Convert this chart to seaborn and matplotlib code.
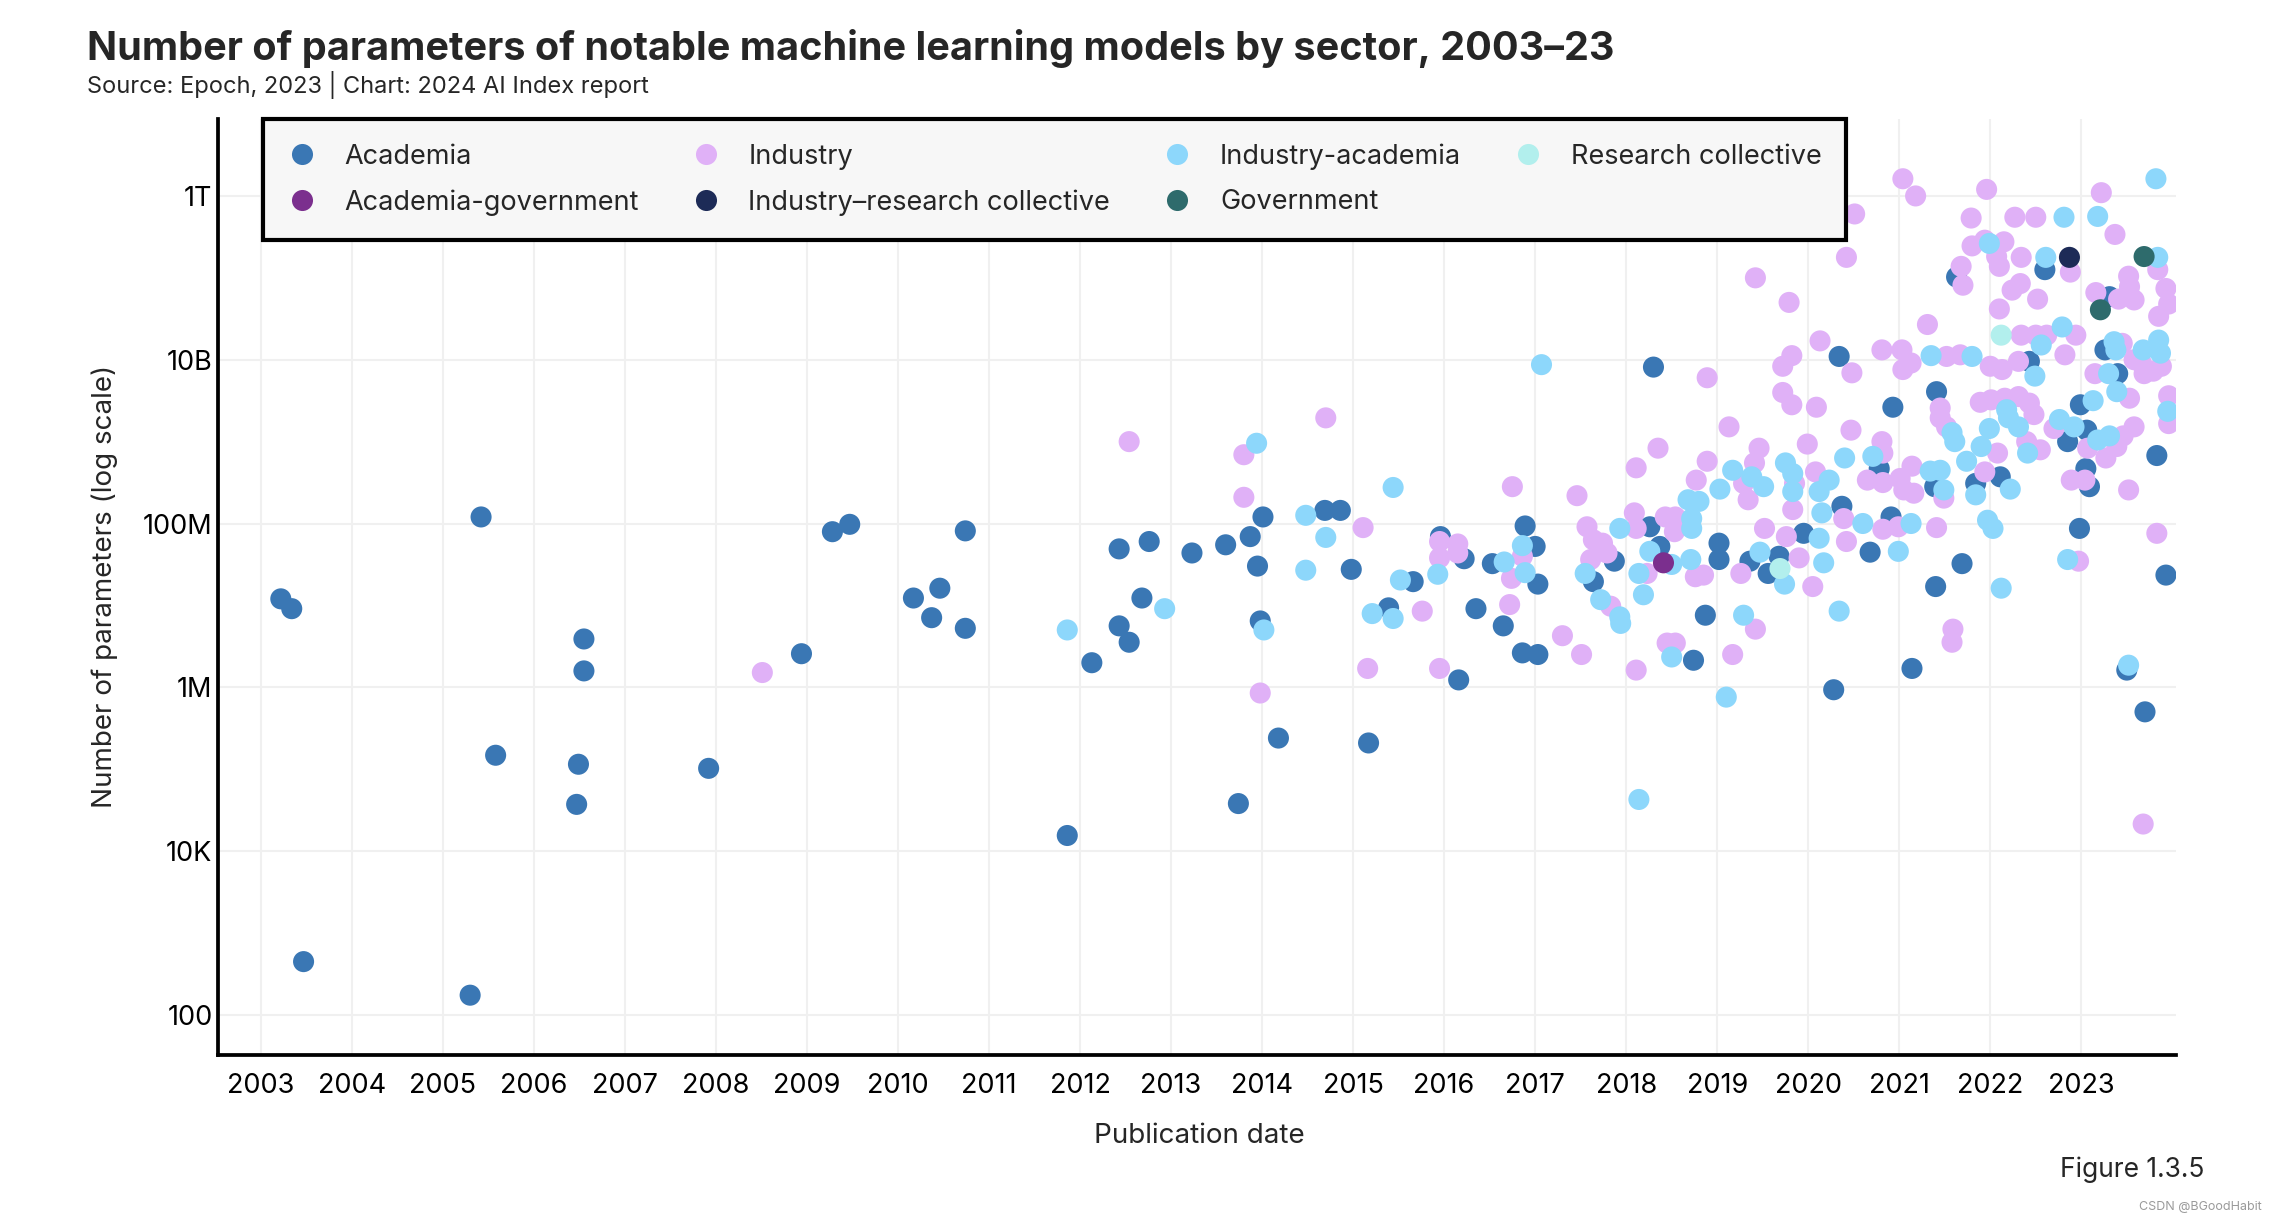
import numpy as np
import pandas as pd
import matplotlib
matplotlib.use('Agg')
import matplotlib.pyplot as plt
import seaborn as sns
from matplotlib.ticker import FixedLocator, NullLocator

# publication date (decimal year) and log10(number of parameters)

academia_year = [2003.22, 2003.34, 2003.47, 2005.42, 2005.30, 2005.58, 2006.55, 2006.55, 2006.49, 2006.47,
                 2007.92, 2008.94, 2009.28, 2009.47,
                 2010.74, 2010.17, 2010.46, 2010.37, 2010.74, 2011.86, 2012.13, 2012.43, 2012.76, 2012.43,
                 2012.68, 2012.54, 2013.23, 2013.60, 2013.74, 2013.87, 2014.01, 2013.95, 2013.98, 2014.18,
                 2014.69, 2014.86, 2014.98, 2015.17, 2015.39, 2015.66, 2016.16, 2015.96, 2016.22, 2016.35,
                 2016.65, 2016.53, 2016.89, 2017.00, 2017.03, 2016.86, 2017.03,
                 2022.60, 2021.63, 2023.31, 2020.34, 2022.43, 2023.26, 2023.40, 2023.83, 2018.30, 2020.93,
                 2021.41, 2022.11, 2021.84, 2022.85, 2022.99, 2023.06, 2023.05, 2023.09, 2022.98, 2023.93,
                 2021.69, 2021.40, 2020.91, 2020.68, 2020.78, 2020.37, 2019.95, 2019.68, 2019.56, 2019.36,
                 2019.02, 2019.02, 2018.87, 2018.26, 2018.37, 2017.87, 2017.64, 2021.39,
                 2018.74, 2020.28, 2021.14, 2023.50, 2023.70]
academia_log = [7.08, 6.96, 2.65, 8.08, 2.24, 5.17, 6.59, 6.20, 5.06, 4.57,
                5.01, 6.41, 7.90, 7.99,
                7.91, 7.09, 7.21, 6.85, 6.72, 4.19, 6.30, 7.69, 7.78, 6.75,
                7.09, 6.55, 7.64, 7.74, 4.58, 7.84, 8.08, 7.48, 6.81, 5.38,
                8.16, 8.16, 7.44, 5.32, 6.97, 7.29, 6.09, 7.84, 7.57, 6.96,
                6.75, 7.51, 7.97, 7.72, 7.26, 6.42, 6.40,
                11.10, 11.01, 10.77, 10.04, 9.98, 10.12, 9.83, 8.83, 9.91, 9.42,
                9.61, 8.57, 8.49, 9.00, 9.45, 9.14, 8.67, 8.45, 7.94, 7.37,
                7.51, 7.23, 8.08, 7.65, 8.67, 8.21, 7.88, 7.60, 7.39, 7.54,
                7.76, 7.56, 6.88, 7.96, 7.72, 7.54, 7.29, 8.45,
                6.33, 5.97, 6.23, 6.21, 5.70]

industry_year = [2008.51, 2012.54, 2013.80, 2013.80, 2013.98, 2014.70, 2015.11, 2015.16, 2015.76, 2015.95,
                 2015.95, 2015.95, 2016.15, 2016.15, 2016.75, 2016.86, 2016.74, 2016.72,
                 2021.04, 2021.18, 2021.96, 2023.22, 2020.51, 2021.79, 2022.27, 2022.50, 2023.37, 2021.80,
                 2022.15, 2021.94, 2022.07, 2022.10, 2022.34, 2022.88, 2023.84, 2020.42, 2021.68, 2021.70,
                 2019.42, 2022.24, 2022.33, 2022.52, 2022.10, 2023.16, 2023.41, 2023.58, 2023.52, 2023.53,
                 2023.93, 2023.96, 2023.85, 2019.79, 2021.31, 2022.34, 2022.50, 2022.62, 2022.94, 2022.82,
                 2020.13, 2019.82, 2019.72, 2020.48, 2020.81, 2021.03, 2021.13, 2021.04, 2021.52, 2021.67,
                 2022.00, 2022.13, 2022.31, 2023.15, 2023.69, 2023.88, 2023.58, 2023.45, 2023.79, 2023.96,
                 2023.96, 2023.83, 2018.89, 2019.72, 2019.82, 2020.09, 2021.45, 2021.45, 2021.52, 2021.89,
                 2022.01, 2022.16, 2022.31, 2022.43, 2022.48, 2022.08, 2021.94, 2022.40, 2022.55, 2022.70,
                 2023.07, 2023.46, 2023.58, 2023.39, 2023.27, 2022.89, 2023.04, 2023.52, 2022.97, 2021.41,
                 2020.99, 2020.82, 2020.81, 2020.82, 2020.65, 2020.47, 2019.99, 2020.08, 2020.39, 2020.42,
                 2020.05, 2019.90, 2019.76, 2019.52, 2019.83, 2019.85, 2019.46, 2019.41, 2019.29, 2019.34,
                 2018.89, 2018.77, 2019.13, 2018.35, 2018.11, 2018.85, 2018.76, 2019.26, 2018.43, 2018.54,
                 2018.09, 2018.11, 2017.79, 2017.74, 2017.64, 2017.57, 2017.83, 2017.46, 2018.23, 2018.53,
                 2017.61, 2020.82, 2021.01, 2021.16, 2021.05, 2021.14, 2021.49, 2023.53, 2023.66,
                 2017.30, 2017.51, 2018.11, 2018.45, 2018.54, 2019.42, 2019.17, 2021.59, 2021.58, 2023.68]
industry_log = [6.18, 9.00, 8.84, 8.32, 5.93, 9.29, 7.95, 6.23, 6.93, 6.23,
                7.78, 7.58, 7.75, 7.64, 8.45, 7.60, 7.33, 7.01,
                12.21, 12.00, 12.08, 12.04, 11.78, 11.73, 11.74, 11.74, 11.53, 11.39,
                11.44, 11.46, 11.26, 11.14, 11.25, 11.07, 11.10, 11.25, 11.14, 10.91,
                11.00, 10.85, 10.93, 10.74, 10.62, 10.82, 10.74, 10.73, 11.02, 10.89,
                10.87, 10.68, 10.53, 10.70, 10.43, 10.30, 10.30, 10.30, 10.30, 10.06,
                10.23, 10.05, 9.92, 9.84, 10.12, 10.12, 9.96, 9.88, 10.04, 10.06,
                9.92, 9.88, 9.98, 9.83, 9.83, 9.92, 10.00, 10.20, 9.86, 9.56,
                9.22, 7.88, 9.78, 9.60, 9.45, 9.42, 9.41, 9.29, 9.18, 9.48,
                9.51, 9.53, 9.55, 9.47, 9.33, 8.86, 8.63, 9.00, 8.90, 9.16,
                8.92, 9.07, 9.18, 8.94, 8.80, 8.53, 8.53, 8.41, 7.54, 7.95,
                7.96, 7.93, 9.00, 8.86, 8.53, 9.14, 8.97, 8.63, 8.06, 7.78,
                7.23, 7.58, 7.84, 7.94, 8.17, 8.49, 8.92, 8.74, 8.49, 8.29,
                8.76, 8.53, 9.18, 8.92, 8.68, 7.37, 7.35, 7.39, 8.08, 8.08,
                8.13, 7.94, 7.64, 7.76, 7.80, 7.96, 6.99, 8.34, 7.39, 7.90,
                7.56, 8.50, 8.55, 8.37, 8.41, 8.70, 8.31, 9.53, 9.96,
                6.63, 6.40, 6.21, 6.54, 6.54, 6.71, 6.40, 6.71, 6.55, 4.33]

ind_acad_year = [2011.86, 2012.93, 2013.94, 2014.02, 2014.48, 2014.70, 2014.48, 2015.44, 2015.21, 2015.44,
                 2015.52, 2015.93, 2016.66, 2016.86, 2016.89, 2017.07,
                 2023.82, 2022.81, 2023.18, 2021.99, 2022.61, 2023.84, 2022.79, 2022.56, 2021.35, 2021.80,
                 2022.49, 2023.38, 2023.36, 2023.30, 2023.68, 2023.85, 2023.87, 2023.95, 2021.58, 2021.61,
                 2022.18, 2022.20, 2022.31, 2021.99, 2021.90, 2021.74, 2021.84, 2022.22, 2022.41, 2022.76,
                 2022.92, 2023.13, 2023.18, 2023.31, 2022.85, 2022.12, 2020.99, 2021.13, 2020.60, 2020.71,
                 2020.40, 2020.23, 2020.12, 2020.15, 2020.12, 2020.17, 2019.74, 2019.47, 2019.83, 2019.75,
                 2019.83, 2019.38, 2019.51, 2019.17, 2019.03, 2018.68, 2018.80, 2018.72, 2018.72, 2019.29,
                 2018.71, 2018.50, 2018.26, 2018.14, 2018.19, 2017.93, 2017.55, 2017.72, 2020.34, 2017.93,
                 2021.97, 2022.03, 2021.34, 2021.45, 2021.49, 2023.39,
                 2017.94, 2018.50, 2019.10, 2023.52, 2018.14]
ind_acad_log = [6.70, 6.96, 8.98, 6.70, 8.10, 7.83, 7.43, 8.44, 6.90, 6.84,
                7.31, 7.38, 7.53, 7.73, 7.40, 9.94,
                12.21, 11.74, 11.75, 11.42, 11.25, 11.25, 10.40, 10.18, 10.05, 10.04,
                9.80, 10.12, 10.22, 9.83, 10.12, 10.24, 10.08, 9.37, 9.11, 9.00,
                9.39, 9.29, 9.18, 9.16, 8.94, 8.76, 8.35, 8.42, 8.86, 9.27,
                9.18, 9.50, 9.02, 9.07, 7.56, 7.21, 7.66, 8.00, 8.00, 8.82,
                8.80, 8.53, 8.39, 8.13, 7.82, 7.52, 7.26, 7.65, 8.39, 8.74,
                8.61, 8.57, 8.45, 8.65, 8.42, 8.29, 8.27, 8.06, 7.94, 6.88,
                7.56, 7.50, 7.66, 7.39, 7.13, 7.94, 7.39, 7.07, 6.93, 6.86,
                8.04, 7.94, 8.64, 8.65, 8.41, 9.61,
                6.78, 6.37, 5.88, 6.27, 4.63]

research_year = [2022.12, 2019.69]
research_log = [10.30, 7.45]

acad_gov_year = [2018.41]
acad_gov_log = [7.52]

ind_research_year = [2022.87]
ind_research_log = [11.25]

government_year = [2023.69, 2023.21]
government_log = [11.26, 10.61]

sectors = ['Academia', 'Industry', 'Industry-academia', 'Research collective',
           'Academia-government', 'Industry–research collective', 'Government']
colors = ['#3a77b4', '#e0b1f7', '#8dd7fb', '#b2efed', '#7b2f8e', '#1d2b57', '#2e6b6c']

years_list = [academia_year, industry_year, ind_acad_year, research_year,
              acad_gov_year, ind_research_year, government_year]
logs_list = [academia_log, industry_log, ind_acad_log, research_log,
             acad_gov_log, ind_research_log, government_log]

frames = []
for name, yrs, lg in zip(sectors, years_list, logs_list):
    frames.append(pd.DataFrame({'date': yrs, 'params': 10 ** np.array(lg), 'sector': name}))
df = pd.concat(frames, ignore_index=True)

tick_years = list(range(2003, 2024))
ytick_vals = [1e2, 1e4, 1e6, 1e8, 1e10, 1e12]
ytick_labels = ['100', '10K', '1M', '100M', '10B', '1T']

sns.set_style('white')
plt.rcParams['font.family'] = ['Inter', 'DejaVu Sans']

fig, ax = plt.subplots(figsize=(22.78, 12.24), dpi=100)
fig.subplots_adjust(left=0.0957, right=0.9552, bottom=0.1381, top=0.9028)

sns.scatterplot(data=df, x='date', y='params', hue='sector', hue_order=sectors,
                palette=dict(zip(sectors, colors)), s=230, linewidth=0, edgecolor='none',
                ax=ax, zorder=3)

ax.set_yscale('log')
ax.set_xlim(2002.53, 2024.04)
ax.set_ylim(10 ** 1.51, 10 ** 12.94)
ax.set_xticks(tick_years)
ax.set_xticklabels([str(y) for y in tick_years])
ax.yaxis.set_major_locator(FixedLocator(ytick_vals))
ax.yaxis.set_minor_locator(NullLocator())
ax.set_yticklabels(ytick_labels)
ax.grid(True, color='#f0f0f0', linewidth=1.5)
ax.set_axisbelow(True)
for side in ['top', 'right']:
    ax.spines[side].set_visible(False)
for side in ['left', 'bottom']:
    ax.spines[side].set_linewidth(2.7)
    ax.spines[side].set_color('black')
ax.tick_params(axis='both', length=0, labelsize=19.5, colors='black')
ax.tick_params(axis='x', pad=13)
ax.tick_params(axis='y', pad=4)
ax.set_xlabel('')
ax.set_ylabel('')

# legend: reorder so it fills row by row like the original
handles, labels = ax.get_legend_handles_labels()
lookup = dict(zip(labels, handles))
leg_order = ['Academia', 'Academia-government', 'Industry', 'Industry–research collective',
             'Industry-academia', 'Government', 'Research collective']
leg = ax.legend([lookup[k] for k in leg_order], leg_order, ncol=4, loc='upper left',
                bbox_to_anchor=(0.023, 1.0), borderaxespad=0, frameon=True, fancybox=False,
                fontsize=19.5, facecolor='#f7f7f7', edgecolor='black', framealpha=1,
                handlelength=1.05, handletextpad=1.05, columnspacing=1.95,
                labelspacing=0.72, borderpad=0.9, markerscale=1.0)
leg.get_frame().set_linewidth(3)
leg.set_zorder(5)

fig.text(0.0382, 0.951, 'Number of parameters of notable machine learning models by sector, 2003–23',
         fontsize=28.5, fontweight='bold', va='baseline', ha='left')
fig.text(0.0382, 0.924, 'Source: Epoch, 2023 | Chart: 2024 AI Index report',
         fontsize=17, va='baseline', ha='left')
fig.text(0.0461, 0.521, 'Number of parameters (log scale)', rotation=90,
         fontsize=20, va='center', ha='center')
fig.text(0.5263, 0.0719, 'Publication date', fontsize=20, va='center', ha='center')
fig.text(0.9675, 0.0441, 'Figure 1.3.5', fontsize=19, va='center', ha='right')
fig.text(0.993, 0.0139, 'CSDN @BGoodHabit', fontsize=9, color='#9a9a9a', va='center', ha='right')

fig.savefig('out.png', dpi=100)
